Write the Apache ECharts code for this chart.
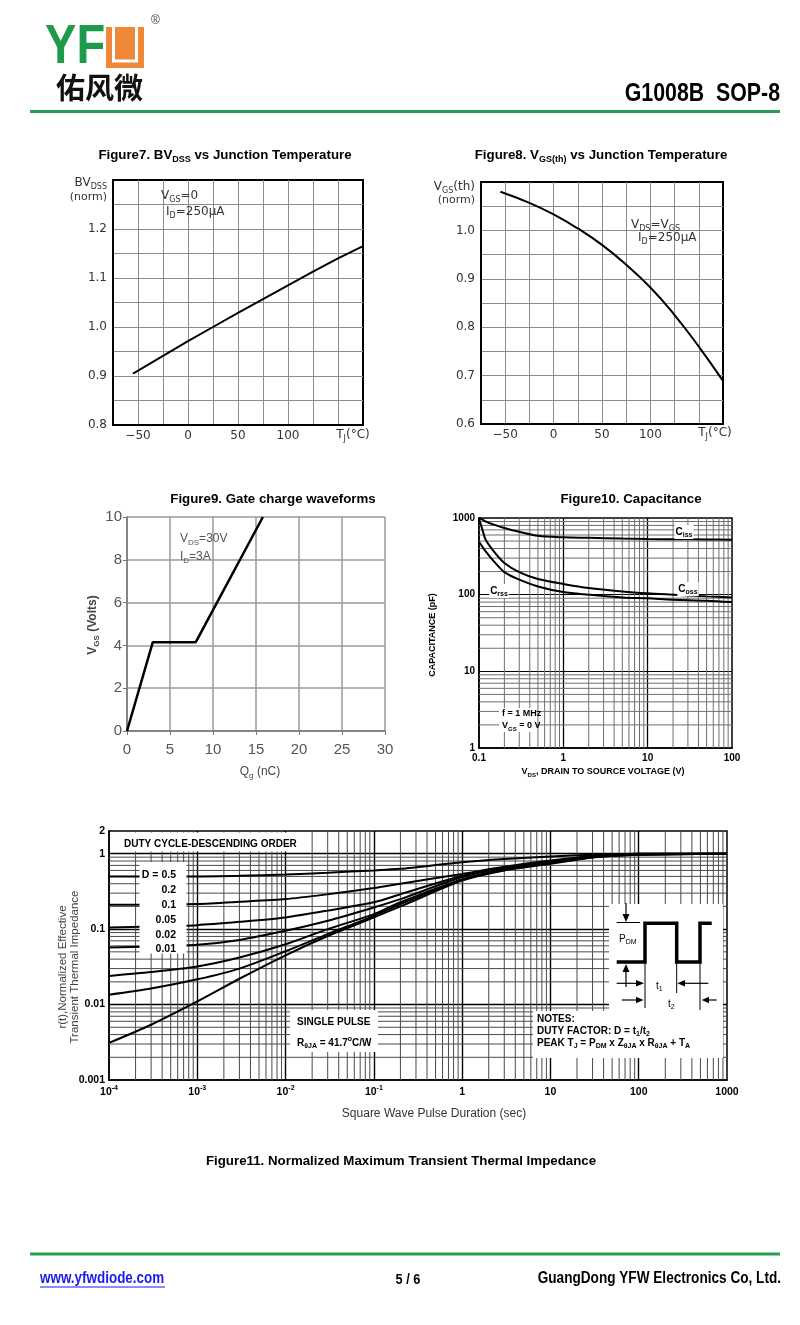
<!DOCTYPE html>
<html><head><meta charset="utf-8">
<script src="https://cdn.jsdelivr.net/npm/echarts@6/dist/echarts.min.js"></script>
<style>html,body{margin:0;padding:0;background:#fff}#c{width:800px;height:1325px}</style>
</head><body><div id="c"></div>
<script>
// ---------------- DATA ----------------
// Figure 7: BVDSS (norm) vs Tj
const fig7Temp = [-55, -25, 0, 25, 50, 75, 100, 125, 150, 175];
const fig7BV = [0.905, 0.941, 0.971, 1.000, 1.029, 1.057, 1.085, 1.113, 1.140, 1.165];
const tempTicks = [-50, 0, 50, 100];
const tempTickLabels = ['\u221250', '0', '50', '100'];
const fig7YTicks = [0.8, 0.9, 1.0, 1.1, 1.2];
const fig7YLabels = ['0.8', '0.9', '1.0', '1.1', '1.2'];

// Figure 8: VGS(th) (norm) vs Tj
const fig8Temp = [-55, -25, 0, 25, 50, 75, 100, 125, 150, 175];
const fig8Vth = [1.080, 1.057, 1.033, 1.004, 0.970, 0.929, 0.882, 0.825, 0.760, 0.689];
const fig8YTicks = [0.6, 0.7, 0.8, 0.9, 1.0];
const fig8YLabels = ['0.6', '0.7', '0.8', '0.9', '1.0'];

// Figure 9: gate charge
const fig9Qg = [0, 3, 8, 15.8];
const fig9Vgs = [0, 4.15, 4.15, 10];

// Figure 10: capacitance
const fig10Vds = [0.1, 0.11, 0.12, 0.15, 0.2, 0.3, 0.5, 1, 2, 5, 10, 20, 50, 100];
const fig10Ciss = [1000, 950, 900, 820, 740, 660, 585, 560, 552, 540, 532, 528, 525, 522];
const fig10Coss = [980, 700, 520, 367, 259, 197, 160, 138, 122, 110, 104, 100, 95, 92];
const fig10Crss = [490, 420, 367, 272, 197, 157, 128, 108, 100, 92, 89.5, 86, 83.5, 80];
const capXLabels = ['0.1', '1', '10', '100'];   // exponents -1..2
const capYLabels = ['1', '10', '100', '1000'];  // exponents 0..3

// Figure 11: transient thermal impedance
const pulseTime = [1e-4, 3e-4, 1e-3, 3e-3, 1e-2, 3e-2, 0.1, 0.2, 1, 3, 10, 30, 100, 1000];
const zD05  = [0.50, 0.50, 0.50, 0.51, 0.53, 0.56, 0.60, 0.63, 0.77, 0.85, 0.92, 0.97, 1.0, 1.0];
const zD02  = [0.21, 0.21, 0.215, 0.23, 0.25, 0.29, 0.35, 0.40, 0.54, 0.67, 0.81, 0.93, 1.0, 1.0];
const zD01  = [0.105, 0.108, 0.113, 0.125, 0.143, 0.176, 0.227, 0.29, 0.51, 0.65, 0.79, 0.92, 0.99, 1.0];
const zD005 = [0.057, 0.059, 0.062, 0.072, 0.095, 0.129, 0.194, 0.25, 0.49, 0.64, 0.77, 0.91, 0.98, 1.0];
const zD002 = [0.024, 0.027, 0.032, 0.042, 0.063, 0.10, 0.158, 0.227, 0.46, 0.62, 0.76, 0.90, 0.975, 1.0];
const zD001 = [0.0135, 0.0163, 0.0216, 0.030, 0.051, 0.086, 0.15, 0.215, 0.45, 0.61, 0.75, 0.90, 0.97, 1.0];
const zSingle = [0.0031, 0.0054, 0.011, 0.022, 0.045, 0.081, 0.143, 0.20, 0.44, 0.60, 0.735, 0.89, 0.97, 1.0];
const thermXLabels = ['{n|10}{p|-4}', '{n|10}{p|-3}', '{n|10}{p|-2}', '{n|10}{p|-1}', '{n|1}', '{n|10}', '{n|100}', '{n|1000}'];
const thermYTicks = [0.001, 0.01, 0.1, 1, 2];
const thermYLabels = ['0.001', '0.01', '0.1', '1', '2'];
const dutyLabels = ['D = 0.5', '0.2', '0.1', '0.05', '0.02', '0.01'];

// ---------------- HELPERS ----------------
const FF = 'Liberation Sans';
const DJ = 'DejaVu Sans';
function zip(a, b) { return a.map((v, i) => [v, b[i]]); }
function pick(ticks, labels, v) {
  for (let i = 0; i < ticks.length; i++) if (Math.abs(ticks[i] - v) < 1e-6 * Math.max(1, Math.abs(v))) return labels[i];
  return '';
}
function pickRel(ticks, labels, v) {
  for (let i = 0; i < ticks.length; i++) if (Math.abs(ticks[i] - v) / ticks[i] < 0.02) return labels[i];
  return '';
}
function decadeMinors(e0, e1) {
  const out = [];
  for (let e = e0; e < e1; e++) for (let m = 2; m <= 9; m++) out.push(+(m * Math.pow(10, e)).toPrecision(3));
  return out;
}
function rich(size, color, weight, ff, lh) {
  const s = Math.round(size * 0.7);
  return {
    b: {fontSize: size, lineHeight: lh || size + 4, fill: color, color: color, fontWeight: weight, fontFamily: ff},
    s: {fontSize: s, lineHeight: s + 1, fill: color, color: color, fontWeight: weight, fontFamily: ff, verticalAlign: 'bottom'},
    u: {fontSize: s, lineHeight: s + 1, fill: color, color: color, fontWeight: weight, fontFamily: ff, verticalAlign: 'top'}
  };
}
function T(x, y, text, o) {
  o = o || {};
  const size = o.size || 12, color = o.color || '#000', weight = o.weight || 'normal', ff = o.ff || FF;
  const style = {text: text, fill: color, fontFamily: ff, fontSize: size, fontWeight: weight,
    align: o.align || 'left', verticalAlign: 'middle', lineHeight: o.lh || (size + 4)};
  if (!o.plain) style.rich = rich(size, color, weight, ff);
  if (o.bg) { style.backgroundColor = o.bg; style.padding = o.pad || [1, 2]; }
  const el = {type: 'text', x: x, y: y, z: o.z || 40, silent: true, style: style};
  if (o.rot) el.rotation = o.rot;
  if (o.sx) el.scaleX = o.sx;
  return el;
}
function L(x1, y1, x2, y2, w, c, z) {
  return {type: 'line', z: z || 40, silent: true, shape: {x1: x1, y1: y1, x2: x2, y2: y2}, style: {stroke: c || '#000', lineWidth: w || 1}};
}
function P(points, fill, z) {
  return {type: 'polygon', z: z || 40, silent: true, shape: {points: points}, style: {fill: fill || '#000'}};
}
function Rect(x, y, w, h, fill, z) {
  return {type: 'rect', z: z || 30, silent: true, shape: {x: x, y: y, width: w, height: h}, style: {fill: fill || '#fff'}};
}
function vGrid(xi, yi, values, y0, y1, color, width) {
  return {type: 'custom', xAxisIndex: xi, yAxisIndex: yi, silent: true, z: 1, animation: false,
    data: values.map(v => [v, y0]),
    renderItem: function (params, api) {
      const a = api.coord([api.value(0), y0]), b = api.coord([api.value(0), y1]);
      return {type: 'line', shape: {x1: a[0], y1: a[1], x2: b[0], y2: b[1]}, style: {stroke: color, lineWidth: width}};
    }};
}
function hGrid(xi, yi, values, x0, x1, color, width) {
  return {type: 'custom', xAxisIndex: xi, yAxisIndex: yi, silent: true, z: 1, animation: false,
    data: values.map(v => [x0, v]),
    renderItem: function (params, api) {
      const a = api.coord([x0, api.value(1)]), b = api.coord([x1, api.value(1)]);
      return {type: 'line', shape: {x1: a[0], y1: a[1], x2: b[0], y2: b[1]}, style: {stroke: color, lineWidth: width}};
    }};
}
function curve(xi, yi, xs, ys, w, smooth) {
  return {type: 'line', xAxisIndex: xi, yAxisIndex: yi, data: zip(xs, ys), symbol: 'none', showSymbol: false,
    smooth: smooth || false, lineStyle: {color: '#000', width: w || 2}, z: 5, silent: true, animation: false};
}

// ---------------- AXES ----------------
const lbl7 = {fontFamily: DJ, fontSize: 12, color: '#333'};
const gridSplit = {show: true, showMinLine: false, showMaxLine: false, lineStyle: {color: '#8c8c8c', width: 1}};
const blackLine = {show: true, onZero: false, lineStyle: {color: '#000', width: 2}};

const xAxes = [
  {gridIndex: 0, type: 'value', min: -75, max: 175, interval: 25, axisLine: blackLine, axisTick: {show: false},
    splitLine: gridSplit, axisLabel: Object.assign({margin: 5, formatter: v => pick(tempTicks, tempTickLabels, v)}, lbl7)},
  {gridIndex: 1, type: 'value', min: -75, max: 175, interval: 25, axisLine: blackLine, axisTick: {show: false},
    splitLine: gridSplit, axisLabel: Object.assign({margin: 5, formatter: v => pick(tempTicks, tempTickLabels, v)}, lbl7)},
  {gridIndex: 2, type: 'value', min: 0, max: 30, interval: 5,
    axisLine: {show: true, onZero: false, lineStyle: {color: '#777', width: 1.5}},
    axisTick: {show: true, length: 4, lineStyle: {color: '#777'}},
    splitLine: {show: true, lineStyle: {color: '#9a9a9a', width: 1.5}},
    axisLabel: {margin: 11, fontFamily: FF, fontSize: 15, color: '#555'}},
  {gridIndex: 3, type: 'log', logBase: 10, min: 0.1, max: 100, splitNumber: 10,
    axisLine: {show: true, onZero: false, lineStyle: {color: '#000', width: 1.5}}, axisTick: {show: false},
    splitLine: {show: true, showMinLine: false, showMaxLine: false, lineStyle: {color: '#000', width: 1.3}},
    axisLabel: {margin: 5, fontFamily: FF, fontSize: 10, fontWeight: 'bold', color: '#000',
      formatter: v => capXLabels[Math.round(Math.log10(v)) + 1] || ''}},
  {gridIndex: 4, type: 'log', logBase: 10, min: 1e-4, max: 1000, splitNumber: 10,
    axisLine: {show: true, onZero: false, lineStyle: {color: '#000', width: 1.5}}, axisTick: {show: false},
    splitLine: {show: true, showMinLine: false, showMaxLine: false, lineStyle: {color: '#000', width: 1.4}},
    axisLabel: {margin: 5, fontFamily: FF, fontSize: 10, fontWeight: 'bold', color: '#000',
      formatter: v => thermXLabels[Math.round(Math.log10(v)) + 4] || '',
      rich: {n: {fontSize: 10.5, fontWeight: 'bold', lineHeight: 14, color: '#000', fontFamily: FF},
             p: {fontSize: 7, fontWeight: 'bold', lineHeight: 8, verticalAlign: 'top', color: '#000', fontFamily: FF}}}}
];
const yAxes = [
  {gridIndex: 0, type: 'value', min: 0.8, max: 1.3, interval: 0.05, axisLine: blackLine, axisTick: {show: false},
    splitLine: gridSplit, axisLabel: Object.assign({margin: 6, formatter: v => pick(fig7YTicks, fig7YLabels, v)}, lbl7)},
  {gridIndex: 1, type: 'value', min: 0.6, max: 1.1, interval: 0.05, axisLine: blackLine, axisTick: {show: false},
    splitLine: gridSplit, axisLabel: Object.assign({margin: 6, formatter: v => pick(fig8YTicks, fig8YLabels, v)}, lbl7)},
  {gridIndex: 2, type: 'value', min: 0, max: 10, interval: 2,
    axisLine: {show: true, onZero: false, lineStyle: {color: '#777', width: 1.5}},
    axisTick: {show: true, length: 4, lineStyle: {color: '#777'}},
    splitLine: {show: true, lineStyle: {color: '#9a9a9a', width: 1.5}},
    axisLabel: {margin: 5, fontFamily: FF, fontSize: 15, color: '#555'}},
  {gridIndex: 3, type: 'log', logBase: 10, min: 1, max: 1000, splitNumber: 10,
    axisLine: {show: true, onZero: false, lineStyle: {color: '#000', width: 1.5}}, axisTick: {show: false},
    splitLine: {show: true, showMinLine: false, showMaxLine: false, lineStyle: {color: '#000', width: 1}},
    axisLabel: {margin: 4, fontFamily: FF, fontSize: 10, fontWeight: 'bold', color: '#000',
      formatter: v => capYLabels[Math.round(Math.log10(v))] || ''}},
  {gridIndex: 4, type: 'log', logBase: 10, min: 0.001, max: 2, splitNumber: 10,
    axisLine: {show: true, onZero: false, lineStyle: {color: '#000', width: 1.5}}, axisTick: {show: false},
    splitLine: {show: true, showMinLine: false, showMaxLine: false, lineStyle: {color: '#000', width: 1.4}},
    axisLabel: {margin: 4, fontFamily: FF, fontSize: 10.5, fontWeight: 'bold', color: '#000', showMaxLabel: true,
      formatter: v => pickRel(thermYTicks, thermYLabels, v)}}
];

const grids = [
  {left: 113, top: 180, width: 250, height: 245, show: true, borderColor: '#000', borderWidth: 2, backgroundColor: 'transparent', containLabel: false, outerBoundsMode: 'none'},
  {left: 481, top: 182, width: 242, height: 242, show: true, borderColor: '#000', borderWidth: 2, backgroundColor: 'transparent', containLabel: false, outerBoundsMode: 'none'},
  {left: 127, top: 517, width: 258, height: 214, show: false, containLabel: false, outerBoundsMode: 'none'},
  {left: 479, top: 518, width: 253, height: 230, show: true, borderColor: '#000', borderWidth: 1.5, backgroundColor: 'transparent', containLabel: false, outerBoundsMode: 'none'},
  {left: 109, top: 831, width: 618, height: 249, show: true, borderColor: '#000', borderWidth: 1.5, backgroundColor: 'transparent', containLabel: false, outerBoundsMode: 'none'}
];

const series = [
  curve(0, 0, fig7Temp, fig7BV, 2, false),
  curve(1, 1, fig8Temp, fig8Vth, 2, 0.5),
  curve(2, 2, fig9Qg, fig9Vgs, 2.5, false),
  vGrid(3, 3, decadeMinors(-1, 2), 1, 1000, '#6f6f6f', 1),
  hGrid(3, 3, decadeMinors(0, 3), 0.1, 100, '#6f6f6f', 1),
  curve(3, 3, fig10Vds, fig10Ciss, 2, 0.3),
  curve(3, 3, fig10Vds, fig10Coss, 2, 0.3),
  curve(3, 3, fig10Vds, fig10Crss, 2, 0.3),
  vGrid(4, 4, decadeMinors(-4, 3), 0.001, 2, '#4a4a4a', 1),
  hGrid(4, 4, decadeMinors(-3, 0), 1e-4, 1000, '#4a4a4a', 1),
  curve(4, 4, pulseTime, zD05, 2, 0.25),
  curve(4, 4, pulseTime, zD02, 2, 0.25),
  curve(4, 4, pulseTime, zD01, 2, 0.25),
  curve(4, 4, pulseTime, zD005, 2, 0.25),
  curve(4, 4, pulseTime, zD002, 2, 0.25),
  curve(4, 4, pulseTime, zD001, 2, 0.25),
  curve(4, 4, pulseTime, zSingle, 2, 0.25)
];

// ---------------- GRAPHICS (header, titles, annotations, footer) ----------------
const G = [];
const GREEN = '#27a053';
// Header logo
G.push(T(45, 48, 'YF', {size: 56, weight: 'bold', color: '#1f9a4a', sx: 0.84, lh: 60, plain: true}));
G.push(Rect(106, 27, 38, 41, '#ef8838', 40));
G.push({type: 'polyline', z: 41, silent: true, shape: {points: [[113.5, 27], [113.5, 61], [136.5, 61], [136.5, 27]]}, style: {stroke: '#fff', lineWidth: 3, fill: null}});
G.push(T(151, 21, '\u00ae', {size: 12, color: '#444', plain: true}));
G.push(T(56, 88, '佑风微', {size: 29, weight: 'bold', ff: 'Noto Sans CJK SC', color: '#111', lh: 34, plain: true}));
G.push(T(780, 94, 'G1008B  SOP-8', {size: 26, weight: 'bold', align: 'right', sx: 0.82, lh: 30, plain: true}));
G.push(L(30, 111.5, 780, 111.5, 3, GREEN));

// Titles
G.push(T(225, 155, '{b|Figure7. BV}{s|DSS}{b| vs Junction Temperature}', {size: 13.3, weight: 'bold', align: 'center'}));
G.push(T(601, 155, '{b|Figure8. V}{s|GS(th)}{b| vs Junction Temperature}', {size: 13.3, weight: 'bold', align: 'center'}));
G.push(T(273, 499, 'Figure9. Gate charge waveforms', {size: 13.3, weight: 'bold', align: 'center', plain: true}));
G.push(T(631, 499, 'Figure10. Capacitance', {size: 13.3, weight: 'bold', align: 'center', plain: true}));
G.push(T(401, 1161, 'Figure11. Normalized Maximum Transient Thermal Impedance', {size: 13.3, weight: 'bold', align: 'center', plain: true}));

// Fig 7 annotations
G.push(T(107, 183, '{b|BV}{s|DSS}', {size: 12, ff: DJ, color: '#333', align: 'right'}));
G.push(T(107, 197, '(norm)', {size: 11, ff: DJ, color: '#333', align: 'right', plain: true}));
G.push(T(353, 435, '{b|T}{s|J}{b|(\u00b0C)}', {size: 12, ff: DJ, color: '#333', align: 'center'}));
G.push(T(161, 196, '{b|V}{s|GS}{b|=0}', {size: 12, ff: DJ, color: '#333'}));
G.push(T(166, 212, '{b|I}{s|D}{b|=250\u03bcA}', {size: 12, ff: DJ, color: '#333'}));

// Fig 8 annotations
G.push(T(475, 187, '{b|V}{s|GS}{b|(th)}', {size: 12, ff: DJ, color: '#333', align: 'right'}));
G.push(T(475, 200, '(norm)', {size: 11, ff: DJ, color: '#333', align: 'right', plain: true}));
G.push(T(715, 433, '{b|T}{s|J}{b|(\u00b0C)}', {size: 12, ff: DJ, color: '#333', align: 'center'}));
G.push(T(631, 225, '{b|V}{s|DS}{b|=V}{s|GS}', {size: 12, ff: DJ, color: '#333'}));
G.push(T(638, 238, '{b|I}{s|D}{b|=250\u03bcA}', {size: 12, ff: DJ, color: '#333'}));

// Fig 9 annotations
G.push(T(180, 539, '{b|V}{s|DS}{b|=30V}', {size: 12, color: '#555'}));
G.push(T(180, 557, '{b|I}{s|D}{b|=3A}', {size: 12, color: '#555'}));
G.push(T(260, 772, '{b|Q}{s|g}{b| (nC)}', {size: 12, color: '#444', align: 'center'}));
G.push(T(93, 625, '{b|V}{s|GS}{b| (Volts)}', {size: 12, weight: 'bold', color: '#444', align: 'center', rot: Math.PI / 2}));

// Fig 10 annotations
G.push(T(433, 635, 'CAPACITANCE (pF)', {size: 9, weight: 'bold', align: 'center', rot: Math.PI / 2, plain: true}));
G.push(T(603, 772, '{b|V}{s|DS}{b|, DRAIN TO SOURCE VOLTAGE (V)}', {size: 9, weight: 'bold', align: 'center'}));
G.push(T(684, 532, '{b|C}{s|iss}', {size: 10, weight: 'bold', align: 'center', bg: '#fff', pad: [0, 1]}));
G.push(T(688, 589, '{b|C}{s|oss}', {size: 10, weight: 'bold', align: 'center', bg: '#fff', pad: [0, 1]}));
G.push(T(499, 591, '{b|C}{s|rss}', {size: 10, weight: 'bold', align: 'center', bg: '#fff', pad: [0, 1]}));
G.push(Rect(499, 708, 37, 24, '#fff', 30));
G.push(T(502, 714, 'f = 1 MHz', {size: 9, weight: 'bold', plain: true}));
G.push(T(502, 726, '{b|V}{s|GS}{b| = 0 V}', {size: 9, weight: 'bold'}));

// Fig 11 annotations
G.push(T(69, 967, 'r(t),Normalized Effective\nTransient Thermal Impedance', {size: 11.5, color: '#444', align: 'center', rot: Math.PI / 2, lh: 12, plain: true}));
G.push(T(434, 1114, 'Square Wave Pulse Duration (sec)', {size: 12, color: '#333', align: 'center', plain: true}));
G.push(Rect(116, 832.5, 180, 19, '#fff', 30));
G.push(T(124, 844, 'DUTY CYCLE-DESCENDING ORDER', {size: 10, weight: 'bold', plain: true}));
G.push(Rect(139.5, 862, 47, 91.5, '#fff', 30));
const dutyY = [875, 890, 905, 920, 935, 949];
dutyLabels.forEach((s, i) => G.push(T(176, dutyY[i], s, {size: 10.5, weight: 'bold', align: 'right', plain: true})));
G.push(Rect(290, 1010, 88, 42, '#fff', 30));
G.push(T(297, 1022, 'SINGLE PULSE', {size: 10, weight: 'bold', plain: true}));
G.push(T(297, 1043, '{b|R}{s|\u03b8JA}{b| = 41.7}{u|o}{b|C/W}', {size: 10, weight: 'bold'}));
G.push(Rect(609, 904, 114, 154, '#fff', 30));
G.push(Rect(533, 1011, 190, 47, '#fff', 30));
G.push(T(537, 1019, 'NOTES:', {size: 10, weight: 'bold', plain: true}));
G.push(T(537, 1031, '{b|DUTY FACTOR: D = t}{s|1}{b|/t}{s|2}', {size: 10, weight: 'bold'}));
G.push(T(537, 1043, '{b|PEAK T}{s|J}{b| = P}{s|DM}{b| x Z}{s|\u03b8JA}{b| x R}{s|\u03b8JA}{b| + T}{s|A}', {size: 10, weight: 'bold'}));
// pulse diagram
G.push({type: 'polyline', z: 42, silent: true, shape: {points: [[616.7, 962], [645, 962], [645, 923.3], [676.7, 923.3], [676.7, 962], [700, 962], [700, 923.3], [711.7, 923.3]]}, style: {stroke: '#000', lineWidth: 3.5, fill: null}});
G.push(L(645, 962, 645, 1008, 1));
G.push(L(676.7, 962, 676.7, 993, 1));
G.push(L(700, 962, 700, 1010, 1));
G.push(L(626, 903, 626, 915, 1.2));
G.push(P([[622.5, 914], [629.5, 914], [626, 922]]));
G.push(L(616.7, 922.5, 640, 922.5, 1));
G.push(P([[622.5, 972], [629.5, 972], [626, 964]]));
G.push(L(626, 972, 626, 987, 1.2));
G.push(L(616.7, 983.3, 637, 983.3, 1.2));
G.push(P([[636, 980], [636, 986.6], [644, 983.3]]));
G.push(P([[685, 980], [685, 986.6], [677.3, 983.3]]));
G.push(L(685, 983.3, 708.3, 983.3, 1.2));
G.push(L(621.7, 1000, 636, 1000, 1.2));
G.push(P([[636, 996.7], [636, 1003.3], [643.5, 1000]]));
G.push(P([[709, 996.7], [709, 1003.3], [701.7, 1000]]));
G.push(L(709, 1000, 716.7, 1000, 1.2));
G.push(T(619, 939, '{b|P}{s|DM}', {size: 10}));
G.push(T(656, 986, '{b|t}{s|1}', {size: 10}));
G.push(T(668, 1004, '{b|t}{s|2}', {size: 10}));

// Footer
G.push(L(30, 1254, 780, 1254, 3, GREEN));
G.push(T(40, 1279, 'www.yfwdiode.com', {size: 16, weight: 'bold', color: '#1a1aee', sx: 0.84, plain: true}));
G.push(L(40, 1287, 165, 1287, 1.2, '#1a1aee'));
G.push(T(408, 1280, '5 / 6', {size: 15, weight: 'bold', align: 'center', sx: 0.85, plain: true}));
G.push(T(781, 1279, 'GuangDong YFW Electronics Co, Ltd.', {size: 16, weight: 'bold', align: 'right', sx: 0.85, plain: true}));

const option = {
  animation: false,
  backgroundColor: '#fff',
  textStyle: {fontFamily: FF},
  grid: grids,
  xAxis: xAxes,
  yAxis: yAxes,
  series: series,
  graphic: {elements: G}
};
const chart = echarts.init(document.getElementById('c'), null, {renderer: 'canvas', width: 800, height: 1325});
chart.setOption(option);
</script>
</body></html>
